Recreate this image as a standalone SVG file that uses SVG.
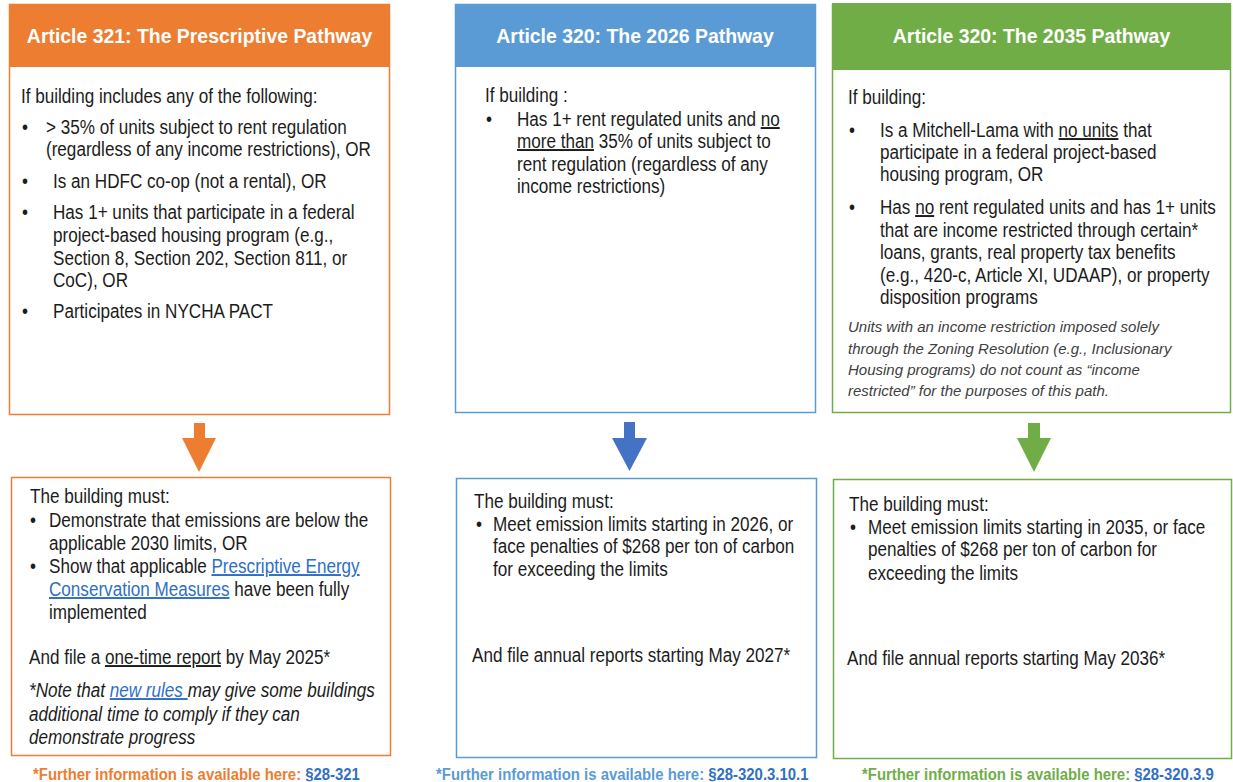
<svg xmlns="http://www.w3.org/2000/svg" width="1233" height="782" viewBox="0 0 1233 782">
  <style>
    text { font-family: "Liberation Sans", Arial, sans-serif; }
    /* narrow face emulated by a horizontal squeeze anchored at each line's start */
    .n { transform-box: fill-box; transform-origin: 0 50%; transform: scaleX(0.877); }
    .title { font-size: 21px; font-weight: bold; fill: #ffffff; text-anchor: middle;
             transform-box: fill-box; transform-origin: 50% 50%; transform: scaleX(0.925); }
    .body { font-size: 19.5px; fill: #1c1c1c; }
    .note { font-size: 15px; font-style: italic; fill: #404040; }
    .foot { font-size: 17px; font-weight: bold; }
    .u { text-decoration: underline; }
    .link { fill: #2f6fc4; text-decoration: underline; }
    .box { fill: #ffffff; stroke-width: 1.5; }
  </style>

  <!-- Article 321: prescriptive pathway -->
  <g id="art321-criteria">
    <rect class="box" x="9.5" y="4.5" width="380" height="410" stroke="#ed7d31"/>
    <rect x="9" y="4" width="381" height="63" fill="#ed7d31"/>
    <text class="title" x="199.5" y="43">Article 321: The Prescriptive Pathway</text>
    <text class="body n" x="21" y="103">If building includes any of the following:</text>
    <text class="body n" x="22" y="134">•</text>
    <text class="body n" x="46" y="134">&gt; 35% of units subject to rent regulation</text>
    <text class="body n" x="46" y="156">(regardless of any income restrictions), OR</text>
    <text class="body n" x="22" y="188">•</text>
    <text class="body n" x="53" y="188">Is an HDFC co-op (not a rental), OR</text>
    <text class="body n" x="22" y="219">•</text>
    <text class="body n" x="53" y="219">Has 1+ units that participate in a federal</text>
    <text class="body n" x="53" y="242">project-based housing program (e.g.,</text>
    <text class="body n" x="53" y="265">Section 8, Section 202, Section 811, or</text>
    <text class="body n" x="53" y="287">CoC), OR</text>
    <text class="body n" x="22" y="318">•</text>
    <text class="body n" x="53" y="318">Participates in NYCHA PACT</text>
  </g>

  <g id="art321-requirements">
    <rect class="box" x="11.5" y="477.5" width="379" height="278" stroke="#ed7d31"/>
    <text class="body n" x="30" y="503">The building must:</text>
    <text class="body n" x="30" y="527">•</text>
    <text class="body n" x="49" y="527">Demonstrate that emissions are below the</text>
    <text class="body n" x="49" y="550">applicable 2030 limits, OR</text>
    <text class="body n" x="30" y="573">•</text>
    <text class="body n" x="49" y="573">Show that applicable <tspan class="link">Prescriptive Energy</tspan></text>
    <text class="body n" x="49" y="596"><tspan class="link">Conservation Measures</tspan> have been fully</text>
    <text class="body n" x="49" y="619">implemented</text>
    <text class="body n" x="29" y="664">And file a <tspan class="u">one-time report</tspan> by May 2025*</text>
    <text class="body n" x="29" y="697" font-style="italic">*Note that <tspan class="link">new rules </tspan>may give some buildings</text>
    <text class="body n" x="29" y="721" font-style="italic">additional time to comply if they can</text>
    <text class="body n" x="29" y="744" font-style="italic">demonstrate progress</text>
  </g>

  <!-- Article 320: 2026 pathway -->
  <g id="art320-2026-criteria">
    <rect class="box" x="455.5" y="4.5" width="360" height="408" stroke="#5b9bd5"/>
    <rect x="455" y="4" width="361" height="63" fill="#5b9bd5"/>
    <text class="title" x="635" y="43">Article 320: The 2026 Pathway</text>
    <text class="body n" x="485" y="102">If building :</text>
    <text class="body n" x="486" y="126">•</text>
    <text class="body n" x="517" y="126">Has 1+ rent regulated units and <tspan class="u">no</tspan></text>
    <text class="body n" x="517" y="148"><tspan class="u">more than</tspan> 35% of units subject to</text>
    <text class="body n" x="517" y="171">rent regulation (regardless of any</text>
    <text class="body n" x="517" y="193">income restrictions)</text>
  </g>

  <g id="art320-2026-requirements">
    <rect class="box" x="456.5" y="478.5" width="360" height="279" stroke="#5b9bd5"/>
    <text class="body n" x="474" y="508">The building must:</text>
    <text class="body n" x="476" y="531">•</text>
    <text class="body n" x="493" y="531">Meet emission limits starting in 2026, or</text>
    <text class="body n" x="493" y="553">face penalties of $268 per ton of carbon</text>
    <text class="body n" x="493" y="576">for exceeding the limits</text>
    <text class="body n" x="472" y="662">And file annual reports starting May 2027*</text>
  </g>

  <!-- Article 320: 2035 pathway -->
  <g id="art320-2035-criteria">
    <rect class="box" x="832.5" y="4.5" width="398" height="408" stroke="#70ad47"/>
    <rect x="832" y="3" width="399" height="67" fill="#70ad47"/>
    <text class="title" x="1031.5" y="43">Article 320: The 2035 Pathway</text>
    <text class="body n" x="848" y="104">If building:</text>
    <text class="body n" x="849" y="137">•</text>
    <text class="body n" x="880" y="137">Is a Mitchell-Lama with <tspan class="u">no units</tspan> that</text>
    <text class="body n" x="880" y="159">participate in a federal project-based</text>
    <text class="body n" x="880" y="181">housing program, OR</text>
    <text class="body n" x="849" y="214">•</text>
    <text class="body n" x="880" y="214">Has <tspan class="u">no</tspan> rent regulated units and has 1+ units</text>
    <text class="body n" x="880" y="237">that are income restricted through certain*</text>
    <text class="body n" x="880" y="259">loans, grants, real property tax benefits</text>
    <text class="body n" x="880" y="282">(e.g., 420-c, Article XI, UDAAP), or property</text>
    <text class="body n" x="880" y="304">disposition programs</text>
    <text class="note" x="848" y="332">Units with an income restriction imposed solely</text>
    <text class="note" x="848" y="354">through the Zoning Resolution (e.g., Inclusionary</text>
    <text class="note" x="848" y="375">Housing programs) do not count as “income</text>
    <text class="note" x="848" y="396">restricted” for the purposes of this path.</text>
  </g>

  <g id="art320-2035-requirements">
    <rect class="box" x="833.5" y="479.5" width="398" height="279" stroke="#70ad47"/>
    <text class="body n" x="849" y="511">The building must:</text>
    <text class="body n" x="850" y="534">•</text>
    <text class="body n" x="868" y="534">Meet emission limits starting in 2035, or face</text>
    <text class="body n" x="868" y="556">penalties of $268 per ton of carbon for</text>
    <text class="body n" x="868" y="580">exceeding the limits</text>
    <text class="body n" x="847" y="665">And file annual reports starting May 2036*</text>
  </g>

  <!-- block arrows from criteria to requirements -->
  <g id="connectors">
    <polygon points="194,423 205,423 205,438 216,438 199,472 182,438 194,438" fill="#ed7d31"/>
    <polygon points="624,422 635,422 635,438 647,438 629.5,471 612,438 624,438" fill="#4472c4"/>
    <polygon points="1028,423 1040,423 1040,438 1051,438 1034,472 1017,438 1028,438" fill="#70ad47"/>
  </g>

  <!-- references -->
  <g id="footnotes">
    <text class="foot n" x="33" y="780"><tspan fill="#ed7d31">*Further information is available here: </tspan><tspan fill="#2f6fc4">§28-321</tspan></text>
    <text class="foot n" x="436" y="780"><tspan fill="#5b9bd5">*Further information is available here: </tspan><tspan fill="#2f6fc4">§28-320.3.10.1</tspan></text>
    <text class="foot n" x="862" y="780"><tspan fill="#70ad47">*Further information is available here: </tspan><tspan fill="#2f6fc4">§28-320.3.9</tspan></text>
  </g>
</svg>
